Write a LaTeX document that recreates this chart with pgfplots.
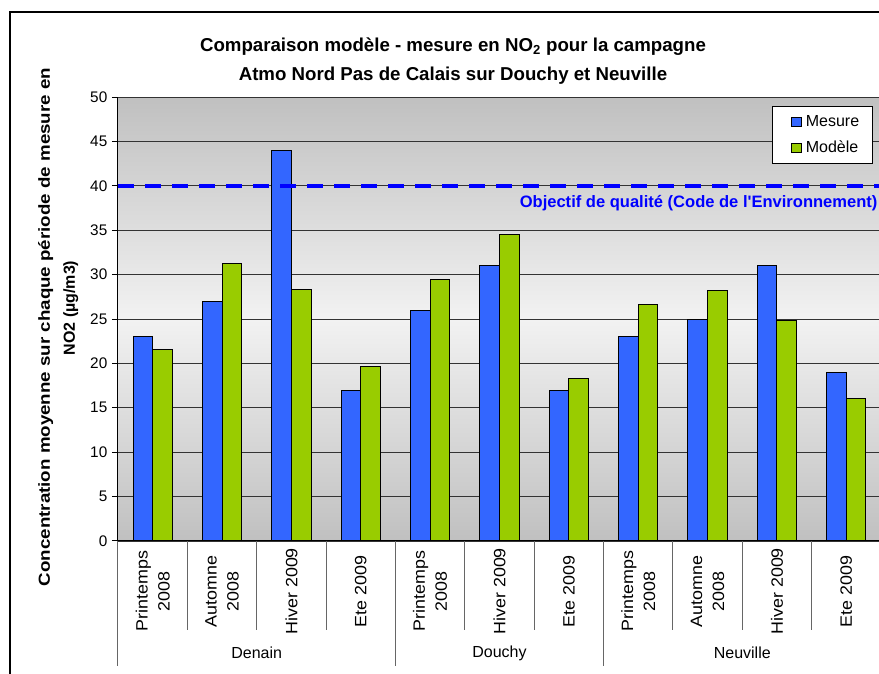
\documentclass[border=0pt]{standalone}
\usepackage{fontspec}
\setmainfont{Liberation Sans}
\newfontfamily\tallfont[FakeStretch=1.17]{Liberation Sans}
\newfontfamily\periodfont[FakeStretch=1.09]{Liberation Sans}
\usepackage{pgfplots}
\usepackage{pgfplotstable}
\pgfplotsset{compat=1.18}

\definecolor{mesure}{HTML}{3366FF}
\definecolor{modele}{HTML}{99CC00}
\definecolor{bgedge}{HTML}{C0C0C0}
\definecolor{bgmid}{HTML}{F2F2F2}
\definecolor{objectif}{HTML}{0000FF}
\definecolor{sep}{HTML}{666666}

% Mean NO2 concentration per campaign period (µg/m3)
\pgfplotstableread{
x  mesure modele
0  23     21.6
1  27     31.3
2  44     28.3
3  17     19.6
4  26     29.5
5  31     34.5
6  17     18.3
7  23     26.6
8  25     28.2
9  31     24.8
10 19     16.1
}\campagne

\tikzset{period/.style={yshift=-37.7pt, rotate=90, anchor=center, align=center,
    font=\periodfont\fontsize{12.3}{16.5}\selectfont},
  site/.style={font=\fontsize{12}{14}\selectfont, yshift=-84.2pt}}

\begin{document}
\begin{tikzpicture}
\useasboundingbox (-88.5pt,-99.75pt) rectangle (570.75pt,405.75pt);
\clip (-88.5pt,-99.75pt) rectangle (570.75pt,405.75pt);
% chart frame
\draw[line width=1.5pt] (-81pt,-150pt) -- (-81pt,396.75pt) -- (650pt,396.75pt);

% title
\node[font=\bfseries\fontsize{14}{17}\selectfont, anchor=base] at (251.25pt,366.75pt)
  {Comparaison modèle - mesure en NO\textsubscript{2} pour la campagne};
\node[font=\bfseries\fontsize{14}{17}\selectfont, anchor=base] at (251.25pt,345pt)
  {Atmo Nord Pas de Calais sur Douchy et Neuville};

% y axis title
\node[rotate=90, anchor=base, font=\tallfont\bfseries\fontsize{12}{14}\selectfont] at (-51pt,160.5pt)
  {Concentration moyenne sur chaque période de mesure en};
\node[rotate=90, anchor=base, font=\bfseries\fontsize{12}{14}\selectfont] at (-32.25pt,174.75pt)
  {NO2 (µg/m3)};

\begin{axis}[
  at={(0pt,0pt)}, anchor=south west,
  scale only axis, width=572.25pt, height=333pt,
  xmin=-0.5, xmax=10.5, ymin=0, ymax=50,
  clip=false,
  axis lines=left,
  axis line style={-, black, line width=0.75pt},
  xtick=\empty,
  ytick={0,5,...,50},
  tick align=outside,
  major tick length=4.5pt,
  ytick style={black, line width=0.75pt},
  ymajorgrids,
  grid style={black!80, line width=0.6pt},
  /pgf/number format/assume math mode=true,
  yticklabel style={font=\fontsize{11.5}{13}\selectfont},
  axis background/.style={top color=bgedge, bottom color=bgedge, middle color=bgmid},
  legend style={at={(1,1)}, anchor=north east, xshift=-6pt, yshift=-6.75pt,
    draw=black, line width=0.75pt, fill=white,
    font=\fontsize{12}{14}\selectfont,
    inner xsep=8pt, inner ysep=5pt, row sep=5pt},
  legend cell align=left,
  legend image code/.code={\path (0pt,0pt) (14pt,0pt);
    \draw[#1, line width=0.75pt] (6pt,-3.4pt) rectangle (12.8pt,3.4pt);},
]
\addplot[ybar, bar width=14.7pt, bar shift=-7.35pt, fill=mesure, draw=black, line width=0.75pt]
  table[x=x, y=mesure] {\campagne};
\addlegendentry{Mesure}
\addplot[ybar, bar width=14.7pt, bar shift=7.35pt, fill=modele, draw=black, line width=0.75pt]
  table[x=x, y=modele] {\campagne};
\addlegendentry{Modèle}

% quality objective
\addplot[objectif, line width=3pt, dash pattern=on 12pt off 8.25pt, forget plot]
  coordinates {(-0.5,40) (10.5,40)};
\node[anchor=east, inner sep=0pt, text=objectif, font=\bfseries\fontsize{12.4}{14}\selectfont]
  at (axis cs:10.5,38.1) [xshift=-2.5pt] {Objectif de qualité (Code de l\textquotesingle Environnement)};

% category separators
\pgfplotsinvokeforeach{0.5,1.5,2.5,4.5,5.5,7.5,8.5,9.5}{
  \draw[sep, line width=0.75pt] (axis cs:#1,0) -- ++(0pt,-67pt);
}
\pgfplotsinvokeforeach{-0.5,3.5,6.5,10.5}{
  \draw[sep, line width=0.75pt] (axis cs:#1,0) -- ++(0pt,-93.75pt);
}

% period labels
\node[period] at (axis cs:0,0) {Printemps\\2008};
\node[period] at (axis cs:1,0) {Automne\\2008};
\node[period] at (axis cs:2,0) {Hiver 2009};
\node[period] at (axis cs:3,0) {Ete 2009};
\node[period] at (axis cs:4,0) {Printemps\\2008};
\node[period] at (axis cs:5,0) {Hiver 2009};
\node[period] at (axis cs:6,0) {Ete 2009};
\node[period] at (axis cs:7,0) {Printemps\\2008};
\node[period] at (axis cs:8,0) {Automne\\2008};
\node[period] at (axis cs:9,0) {Hiver 2009};
\node[period] at (axis cs:10,0) {Ete 2009};

% site labels
\node[site] at (axis cs:1.5,0) {Denain};
\node[site] at (axis cs:5,0) {Douchy};
\node[site] at (axis cs:8.5,0) {Neuville};
\end{axis}
\end{tikzpicture}
\end{document}
